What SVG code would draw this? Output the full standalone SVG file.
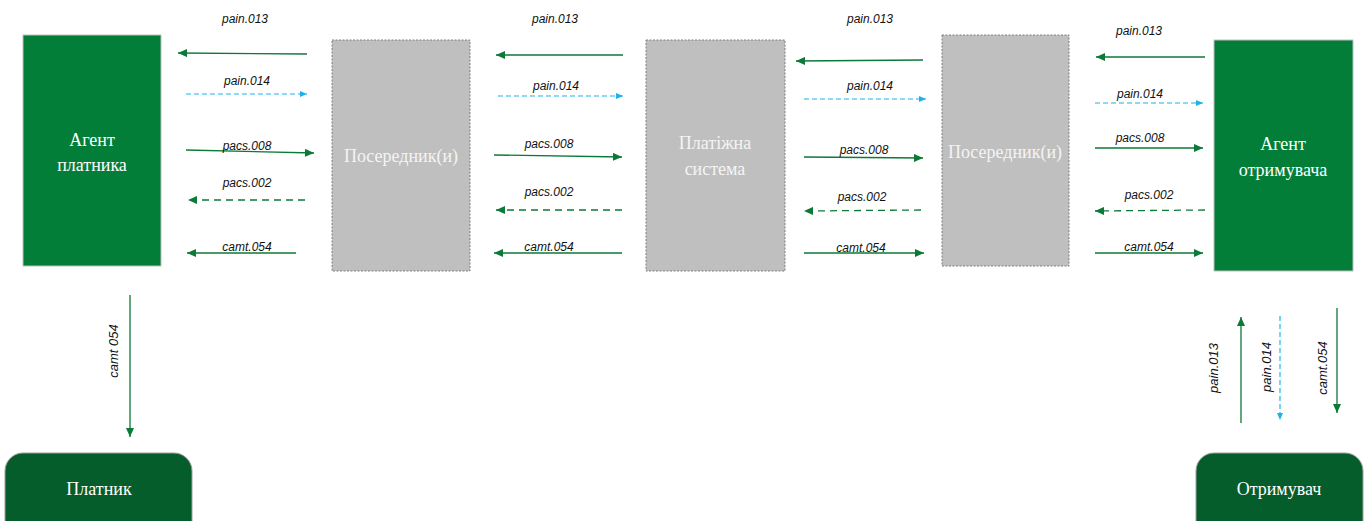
<svg xmlns="http://www.w3.org/2000/svg" width="1366" height="521" viewBox="0 0 1366 521">
<defs>
<style>
.agent{fill:#037E39;stroke:#BFBFBF;stroke-width:1}
.mid{fill:#BFBFBF;stroke:#808080;stroke-width:1;stroke-dasharray:2 1.5}
.party{fill:#045D2A;stroke:#9E9E9E;stroke-width:1}
.nt{font-family:"Liberation Serif","Times New Roman",serif;font-size:18px;fill:#FFFFFF;text-anchor:middle}
.mt{font-family:"Liberation Serif","Times New Roman",serif;font-size:18px;fill:#F4F4F4;text-anchor:middle}
.lb{font-family:"Liberation Sans",Arial,sans-serif;font-style:italic;font-size:12px;fill:#111111;text-anchor:middle}
.g{stroke:#0B7A36;stroke-width:1.3;fill:none;marker-end:url(#ag)}
.gd{stroke:#0B7A36;stroke-width:1.3;fill:none;stroke-dasharray:7 5;marker-end:url(#ag)}
.b{stroke:#1FB0EA;stroke-width:1.2;fill:none;stroke-dasharray:5 3;marker-end:url(#ab)}
</style>
<marker id="ag" markerUnits="userSpaceOnUse" markerWidth="10" markerHeight="8" refX="9" refY="4" orient="auto">
<path d="M0,0 L9,4 L0,8 Z" fill="#0B7A36"/>
</marker>
<marker id="ab" markerUnits="userSpaceOnUse" markerWidth="8" markerHeight="6" refX="7" refY="3" orient="auto">
<path d="M0,0 L7,3 L0,6 Z" fill="#1FB0EA"/>
</marker>
</defs>
<rect width="1366" height="521" fill="#FFFFFF"/>

<g id="agent-payer">
<rect class="agent" x="23" y="35" width="138" height="231"/>
<text class="nt" x="92" y="146">Агент</text>
<text class="nt" x="92" y="171">платника</text>
</g>
<g id="intermediary-1">
<rect class="mid" x="332" y="40" width="138" height="231"/>
<text class="mt" x="401" y="162">Посередник(и)</text>
</g>
<g id="payment-system">
<rect class="mid" x="646" y="40" width="139" height="231"/>
<text class="mt" x="715" y="149">Платіжна</text>
<text class="mt" x="715" y="175">система</text>
</g>
<g id="intermediary-2">
<rect class="mid" x="942" y="35" width="127" height="231"/>
<text class="mt" x="1005" y="158">Посередник(и)</text>
</g>
<g id="agent-payee">
<rect class="agent" x="1214" y="40" width="139" height="231"/>
<text class="nt" x="1283" y="150">Агент</text>
<text class="nt" x="1283" y="176">отримувача</text>
</g>
<g id="payer">
<rect class="party" x="5" y="453" width="187" height="90" rx="18"/>
<text class="nt" x="99" y="495">Платник</text>
</g>
<g id="payee">
<rect class="party" x="1196" y="453" width="167" height="90" rx="18"/>
<text class="nt" x="1279" y="495">Отримувач</text>
</g>

<g id="connectors">
<path class="g" d="M307,54 L178,53"/>
<path class="b" d="M186,94 L307,94"/>
<path class="g" d="M186,150 L314,153"/>
<path class="gd" d="M305,200 L188,200"/>
<path class="g" d="M296,253 L187,253"/>

<path class="g" d="M623,55 L496,55"/>
<path class="b" d="M498,96 L623,96"/>
<path class="g" d="M494,155 L622,157"/>
<path class="gd" d="M622,210 L496,210"/>
<path class="g" d="M622,253 L494,253"/>

<path class="g" d="M923,60 L796,61"/>
<path class="b" d="M804,99 L926,99"/>
<path class="g" d="M804,157 L923,158"/>
<path class="gd" d="M921,210 L804,211"/>
<path class="g" d="M804,253 L924,253"/>

<path class="g" d="M1205,57 L1096,57"/>
<path class="b" d="M1095,103 L1203,103"/>
<path class="g" d="M1095,148 L1203,148"/>
<path class="gd" d="M1205,210 L1095,211"/>
<path class="g" d="M1095,253 L1203,253"/>

<path class="g" d="M130,295 L130,437"/>
<path class="g" d="M1241,423 L1241,317"/>
<path class="b" d="M1280,316 L1280,420"/>
<path class="g" d="M1337,308 L1337,413"/>

<text class="lb" x="245" y="23">pain.013</text>
<text class="lb" x="247" y="85">pain.014</text>
<text class="lb" x="247" y="150">pacs.008</text>
<text class="lb" x="247" y="187">pacs.002</text>
<text class="lb" x="247" y="251">camt.054</text>

<text class="lb" x="555" y="23">pain.013</text>
<text class="lb" x="556" y="90">pain.014</text>
<text class="lb" x="549" y="148">pacs.008</text>
<text class="lb" x="549" y="196">pacs.002</text>
<text class="lb" x="549" y="251">camt.054</text>

<text class="lb" x="870" y="23">pain.013</text>
<text class="lb" x="870" y="90">pain.014</text>
<text class="lb" x="864" y="154">pacs.008</text>
<text class="lb" x="862" y="201">pacs.002</text>
<text class="lb" x="861" y="252">camt.054</text>

<text class="lb" x="1139" y="35">pain.013</text>
<text class="lb" x="1140" y="98">pain.014</text>
<text class="lb" x="1140" y="142">pacs.008</text>
<text class="lb" x="1149" y="199">pacs.002</text>
<text class="lb" x="1149" y="251">camt.054</text>

<text class="lb" style="font-size:13px" transform="translate(118,351) rotate(-90)">camt 054</text>
<text class="lb" style="font-size:13px" transform="translate(1218,368) rotate(-90)">pain.013</text>
<text class="lb" style="font-size:13px" transform="translate(1271,367) rotate(-90)">pain.014</text>
<text class="lb" style="font-size:13px" transform="translate(1327,368) rotate(-90)">camt.054</text>
</g>
</svg>
